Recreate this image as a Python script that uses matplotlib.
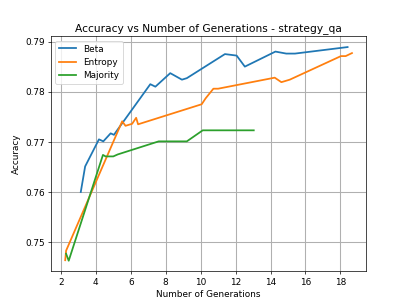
import matplotlib
matplotlib.use('Agg')
import matplotlib.pyplot as plt

beta_x = [3.14, 3.39, 4.18, 4.43, 4.85, 5.04, 5.2, 7.12, 7.41, 8.26, 8.93, 9.21, 11.39, 12.06, 12.53, 14.28, 14.9, 15.4, 18.41]
beta_y = [0.7600, 0.7651, 0.7705, 0.7701, 0.7717, 0.7714, 0.7722, 0.7815, 0.7810, 0.7837, 0.7824, 0.7827, 0.7875, 0.7872, 0.7850, 0.7880, 0.7876, 0.7876, 0.7889]

entropy_x = [2.25, 2.3, 5.51, 5.7, 6.08, 6.31, 6.42, 10.06, 10.29, 10.73, 11.0, 14.24, 14.62, 15.1, 18.03, 18.3, 18.66]
entropy_y = [0.7464, 0.7483, 0.7741, 0.7732, 0.7736, 0.7748, 0.7735, 0.7775, 0.7787, 0.7806, 0.7806, 0.7828, 0.7819, 0.7824, 0.7871, 0.7871, 0.7877]

majority_x = [2.3, 2.45, 4.41, 4.56, 5.0, 5.26, 7.6, 9.21, 10.12, 13.04]
majority_y = [0.7477, 0.7463, 0.7674, 0.7671, 0.7671, 0.7675, 0.7701, 0.7701, 0.7723, 0.7723]

fig, ax = plt.subplots(figsize=(6.4, 4.8), dpi=407 / 6.4)
ax.plot(beta_x, beta_y, label='Beta', linewidth=2)
ax.plot(entropy_x, entropy_y, label='Entropy', linewidth=2)
ax.plot(majority_x, majority_y, label='Majority', linewidth=2)

ax.set_title('Accuracy vs Number of Generations - strategy_qa')
ax.set_xlabel('Number of Generations')
ax.set_ylabel('Accuracy')
ax.legend(loc='upper left')
ax.grid(True, linewidth=1.2)
ax.set_xticks(range(2, 19, 2))
ax.set_yticks([0.75, 0.76, 0.77, 0.78, 0.79])

fig.savefig('out.png')
plt.close(fig)
